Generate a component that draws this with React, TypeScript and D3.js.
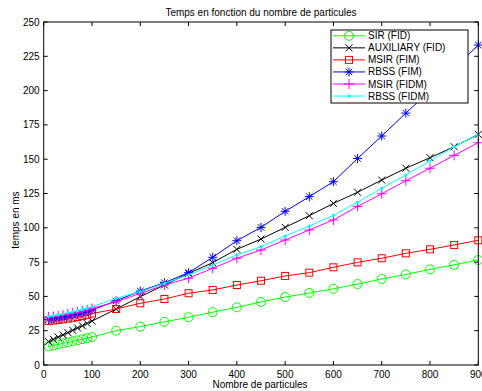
import React from "react";
import * as d3 from "d3";

const particles = [10, 20, 30, 40, 50, 60, 70, 80, 90, 100, 150, 200, 250, 300, 350, 400, 450, 500, 550, 600, 650, 700, 750, 800, 850, 900];

const sirFID = [13.5, 14.2, 15, 15.8, 16.5, 17.3, 18, 18.8, 19.6, 20.4, 25, 28, 31.5, 34.8, 38.5, 42, 46, 49.5, 52.5, 55.5, 59, 62.7, 66, 69.7, 73, 76.5];
const auxFID = [17, 18.7, 20.3, 22, 23.6, 25.3, 27, 28.6, 30.3, 32, 40.8, 49.8, 58.3, 66.8, 74.6, 84.3, 91.8, 100.3, 108.8, 117.8, 125.9, 134.8, 143.4, 151.1, 159.1, 168.1];
const msirFIM = [32, 32.4, 32.8, 33.3, 33.8, 34.4, 35, 35.7, 36.5, 37.5, 40.8, 45, 48.1, 52.3, 54.7, 58.3, 61.4, 64.9, 67.3, 71.2, 74.8, 77.8, 81.4, 84.3, 87.5, 90.9];
const rbssFIM = [33, 33.5, 34.2, 34.8, 35.5, 36.3, 37, 37.8, 38.8, 40, 46.8, 53.9, 60, 67.3, 78.5, 90.6, 100.3, 112, 122.7, 133.6, 150.5, 166.9, 183.6, 200, 216, 233.2];
const msirFIDM = [35, 35.4, 35.9, 36.5, 37.2, 37.9, 38.6, 39.4, 40.2, 41.2, 46.1, 52.2, 58.3, 63.2, 70.5, 77.8, 83.8, 91.1, 98.4, 105.7, 115.6, 124.8, 134.3, 143.4, 152.8, 162];
const rbssFIDM = [35.5, 36, 36.6, 37.3, 38, 38.8, 39.6, 40.5, 41.4, 42.4, 48.6, 53.4, 59.5, 65.6, 72.9, 80.2, 86.2, 94, 101.3, 109.1, 118.6, 128.8, 138.5, 148.7, 159.1, 168];

const seriesNames = ["SIR (FID)", "AUXILIARY (FID)", "MSIR (FIM)", "RBSS (FIM)", "MSIR (FIDM)", "RBSS (FIDM)"];
const seriesValues = [sirFID, auxFID, msirFIM, rbssFIM, msirFIDM, rbssFIDM];
const seriesColors = ["#00ff00", "#000000", "#ff0000", "#0000ff", "#ff00ff", "#00ffff"];
const seriesMarkers = ["circle", "x", "square", "star", "plus", "dot"];

const xTicks = [0, 100, 200, 300, 400, 500, 600, 700, 800, 900];
const yTicks = [0, 25, 50, 75, 100, 125, 150, 175, 200, 225, 250];

const title = "Temps en fonction du nombre de particules";
const xLabel = "Nombre de particules";
const yLabel = "temps en ms";

const FONT = "'Liberation Sans', Arial, Helvetica, sans-serif";

function Marker({ type, color, x, y }: { type: string; color: string; x: number; y: number }) {
  const t = `translate(${x},${y})`;
  switch (type) {
    case "circle":
      return <circle cx={x} cy={y} r={4.5} fill="none" stroke={color} strokeWidth={1} />;
    case "x":
      return <path transform={t} d="M-3.5,-3.5L3.5,3.5M-3.5,3.5L3.5,-3.5" stroke={color} strokeWidth={1} fill="none" />;
    case "square":
      return <rect x={x - 3.5} y={y - 3.5} width={7} height={7} fill="none" stroke={color} strokeWidth={1} />;
    case "star":
      return <path transform={t} d="M-4.5,0H4.5M0,-4.5V4.5M-3.2,-3.2L3.2,3.2M-3.2,3.2L3.2,-3.2" stroke={color} strokeWidth={1} fill="none" />;
    case "plus":
      return <path transform={t} d="M-5,0H5M0,-5V5" stroke={color} strokeWidth={1} fill="none" />;
    case "dot":
      return <circle cx={x} cy={y} r={1.6} fill={color} stroke="none" />;
    default:
      return null;
  }
}

export default function App() {
  const W = 482, H = 391;
  const x = d3.scaleLinear().domain([0, 900]).range([43.7, 478.3]);
  const y = d3.scaleLinear().domain([0, 250]).range([365, 22]);
  const [x0, x1] = x.range();
  const [y0, y1] = y.range();

  const line = d3.line<number>().x((_, i) => x(particles[i])).y((d) => y(d));

  const lx = 331, ly = 30, lw = 137, lh = 73;
  const rowY = (i: number) => 35.8 + i * 12.05;

  return (
    <svg width={W} height={H} style={{ position: "absolute", left: 0, top: 0, background: "#fff" }} fontFamily={FONT}>
      <rect x={0} y={0} width={W} height={H} fill="#fff" />
      {/* series */}
      {seriesValues.map((vals, si) => (
        <g key={si}>
          <path d={line(vals) || ""} fill="none" stroke={seriesColors[si]} strokeWidth={1} />
          {vals.map((v, i) => (
            <Marker key={i} type={seriesMarkers[si]} color={seriesColors[si]} x={x(particles[i])} y={y(v)} />
          ))}
        </g>
      ))}
      {/* axes box */}
      <rect x={x0} y={y1} width={x1 - x0} height={y0 - y1} fill="none" stroke="#000" strokeWidth={1} />
      {xTicks.map((t) => (
        <g key={"xt" + t}>
          <line x1={x(t)} x2={x(t)} y1={y0} y2={y0 - 4} stroke="#000" strokeWidth={1} />
          <line x1={x(t)} x2={x(t)} y1={y1} y2={y1 + 4} stroke="#000" strokeWidth={1} />
          <text x={x(t)} y={y0 + 13} fontSize={10} textAnchor="middle" fill="#000">{t}</text>
        </g>
      ))}
      {yTicks.map((t) => (
        <g key={"yt" + t}>
          <line x1={x0} x2={x0 + 4} y1={y(t)} y2={y(t)} stroke="#000" strokeWidth={1} />
          <line x1={x1} x2={x1 - 4} y1={y(t)} y2={y(t)} stroke="#000" strokeWidth={1} />
          <text x={x0 - 4} y={y(t)} dy="0.35em" fontSize={10} textAnchor="end" fill="#000">{t}</text>
        </g>
      ))}
      {/* labels */}
      <text x={261} y={15.5} fontSize={10} textAnchor="middle" fill="#000">{title}</text>
      <text x={260} y={388} fontSize={10} textAnchor="middle" fill="#000">{xLabel}</text>
      <text transform={`translate(15,220) rotate(-90)`} dy="0.35em" fontSize={10} textAnchor="middle" fill="#000">{yLabel}</text>
      {/* legend */}
      <rect x={lx} y={ly} width={lw} height={lh} fill="#fff" stroke="#000" strokeWidth={1} />
      {seriesNames.map((n, i) => (
        <g key={"lg" + i}>
          <line x1={333} x2={365} y1={rowY(i)} y2={rowY(i)} stroke={seriesColors[i]} strokeWidth={1} />
          <Marker type={seriesMarkers[i]} color={seriesColors[i]} x={349} y={rowY(i)} />
          <text x={368} y={rowY(i)} dy="0.35em" fontSize={10} fill="#000">{n}</text>
        </g>
      ))}
    </svg>
  );
}
